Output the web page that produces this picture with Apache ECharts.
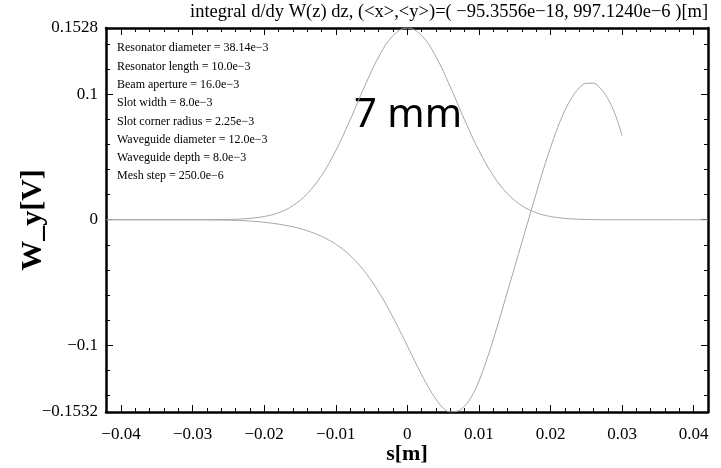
<!DOCTYPE html>
<html>
<head>
<meta charset="utf-8">
<script src="https://cdn.jsdelivr.net/npm/echarts@6/dist/echarts.min.js"></script>
<style>
html, body { margin: 0; padding: 0; background: #fff; }
#main { width: 721px; height: 468px; }
</style>
</head>
<body>
<div id="main"></div>
<script>
// bunch shape (upper curve), s in m
const bunchS = [
	-0.042, -0.040, -0.038, -0.036, -0.034, -0.032, -0.030, -0.028, -0.026, -0.024,
	-0.022, -0.020, -0.018, -0.016, -0.014, -0.012, -0.010, -0.008, -0.006, -0.004,
	-0.002, 0.000, 0.002, 0.004, 0.006, 0.008, 0.010, 0.012, 0.014, 0.016,
	0.018, 0.020, 0.022, 0.024, 0.026, 0.028, 0.030, 0.032, 0.034, 0.036,
	0.038, 0.040, 0.042,
]
const bunchVals = [
	0, 0, 0, 0, 0, 0, 0, 0, 0.0001, 0.0004,
	0.0011, 0.0026, 0.0056, 0.0112, 0.0207, 0.0352, 0.0551, 0.0795, 0.1059, 0.1298,
	0.1467, 0.1528, 0.1467, 0.1298, 0.1059, 0.0795, 0.0551, 0.0352, 0.0207, 0.0112,
	0.0056, 0.0026, 0.0011, 0.0004, 0.0001, 0, 0, 0, 0, 0,
	0, 0, 0,
]
// wake W_y (lower curve), stops at s = 0.03
const wakeS = [
	-0.042, -0.034, -0.030, -0.026, -0.024, -0.022,
	-0.020, -0.019, -0.018, -0.017, -0.016, -0.015, -0.014, -0.013, -0.012, -0.011,
	-0.010, -0.009, -0.008, -0.007, -0.006, -0.005, -0.004, -0.003, -0.002, -0.001,
	0.000, 0.001, 0.002, 0.003, 0.004, 0.005, 0.006, 0.007, 0.008, 0.009,
	0.010, 0.011, 0.012, 0.013, 0.014, 0.015, 0.016, 0.017, 0.018, 0.019,
	0.020, 0.021, 0.022, 0.023, 0.024, 0.025, 0.026, 0.027, 0.028, 0.029,
	0.030,
]
const wakeVals = [
	0, 0, 0, -0.0002, -0.0005, -0.0010,
	-0.0020, -0.0027, -0.0035, -0.0045, -0.0056, -0.0070, -0.0088, -0.0108, -0.0132, -0.0161,
	-0.0195, -0.0236, -0.0285, -0.0343, -0.0410, -0.0488, -0.0575, -0.0672, -0.0778, -0.0890,
	-0.1005, -0.1122, -0.1235, -0.1340, -0.1430, -0.1500, -0.1531, -0.1525, -0.1485, -0.1405,
	-0.1285, -0.1130, -0.0955, -0.0765, -0.0570, -0.0375, -0.0180, 0.0015, 0.0210, 0.0400,
	0.0575, 0.0735, 0.0870, 0.0975, 0.1050, 0.1087, 0.1088, 0.1045, 0.0965, 0.0845,
	0.0670,
]
const xMajor = [-0.04, -0.03, -0.02, -0.01, 0, 0.01, 0.02, 0.03, 0.04]
const xMinor = [
	-0.042, -0.038, -0.036, -0.034, -0.032, -0.028, -0.026, -0.024, -0.022,
	-0.018, -0.016, -0.014, -0.012, -0.008, -0.006, -0.004, -0.002,
	0.002, 0.004, 0.006, 0.008, 0.012, 0.014, 0.016, 0.018,
	0.022, 0.024, 0.026, 0.028, 0.032, 0.034, 0.036, 0.038,
]
const yMajor = [-0.1532, -0.1, 0, 0.1, 0.1528]
const yMinor = [-0.14, -0.12, -0.08, -0.06, -0.04, -0.02, 0.02, 0.04, 0.06, 0.08, 0.12, 0.14]
const notes = [
	'Resonator diameter = 38.14e\u22123',
	'Resonator length = 10.0e\u22123',
	'Beam aperture = 16.0e\u22123',
	'Slot width = 8.0e\u22123',
	'Slot corner radius = 2.25e\u22123',
	'Waveguide diameter = 12.0e\u22123',
	'Waveguide depth = 8.0e\u22123',
	'Mesh step = 250.0e\u22126',
]
const subtitle = 'integral d/dy W(z) dz, (<x>,<y>)=( \u221295.3556e\u221218, 997.1240e\u22126 )[m]'

const serif = 'Liberation Serif'
const fmt = v => (v < 0 ? '\u2212' : '') + String(Math.abs(v))

const chart = echarts.init(document.getElementById('main'))

const line = { show: true, onZero: false, lineStyle: { color: '#000', width: 2.5 } }
const noLine = { show: false, onZero: false }
const xBase = { type: 'value', min: -0.0421, max: 0.042, splitLine: { show: false } }
const yBase = { type: 'value', min: -0.1532, max: 0.1528, splitLine: { show: false } }
const tick = (vals, len) => ({ show: true, inside: true, length: len, customValues: vals, lineStyle: { color: '#000', width: 1 } })
const noLabel = { show: false }

const options = {
	animation: false,
	grid: { left: 106, right: 13, top: 28, bottom: 56, outerBoundsMode: 'none' },
	xAxis: [
		Object.assign({}, xBase, {
			position: 'bottom', axisLine: line, axisTick: tick(xMajor, 7),
			axisLabel: { customValues: xMajor, formatter: fmt, color: '#000', fontFamily: serif, fontSize: 17, margin: 14 },
			name: 's[m]', nameLocation: 'middle', nameGap: 31, nameMoveOverlap: false,
			nameTextStyle: { color: '#000', fontFamily: serif, fontSize: 22, fontWeight: 'bold' },
		}),
		Object.assign({}, xBase, { position: 'bottom', axisLine: noLine, axisTick: tick(xMinor, 4), axisLabel: noLabel }),
		Object.assign({}, xBase, { position: 'top', axisLine: line, axisTick: tick(xMajor, 7), axisLabel: noLabel }),
		Object.assign({}, xBase, { position: 'top', axisLine: noLine, axisTick: tick(xMinor, 4), axisLabel: noLabel }),
	],
	yAxis: [
		Object.assign({}, yBase, {
			position: 'left', axisLine: line, axisTick: tick(yMajor, 7),
			axisLabel: { customValues: yMajor, formatter: fmt, color: '#000', fontFamily: serif, fontSize: 17, margin: 8 },
			name: 'W_y[V]', nameLocation: 'middle', nameGap: 58, nameRotate: 90, nameMoveOverlap: false,
			nameTextStyle: { color: '#000', fontFamily: serif, fontSize: 30, fontWeight: 'bold' },
		}),
		Object.assign({}, yBase, { position: 'left', axisLine: noLine, axisTick: tick(yMinor, 4), axisLabel: noLabel }),
		Object.assign({}, yBase, { position: 'right', axisLine: line, axisTick: tick(yMajor, 7), axisLabel: noLabel }),
		Object.assign({}, yBase, { position: 'right', axisLine: noLine, axisTick: tick(yMinor, 4), axisLabel: noLabel }),
	],
	graphic: [
		{
			type: 'text', left: 190, top: 3,
			style: { text: subtitle, fill: '#000', font: '18.5px "Liberation Serif"' },
		},
		{
			type: 'text', left: 117, top: 39,
			style: { text: notes.join('\n'), fill: '#000', font: '12px "Liberation Serif"', lineHeight: 18.3 },
		},
		{
			type: 'text', left: 354, top: 96,
			style: { text: '7 mm', fill: '#000', font: '40px "Noto Sans"' },
		},
	],
	series: [
		{
			name: 'bunch', type: 'line', smooth: 0.4, symbol: 'none',
			lineStyle: { color: '#a6a6a6', width: 1 },
			data: bunchS.map((s, i) => [s, bunchVals[i]]),
		},
		{
			name: 'wake', type: 'line', smooth: 0.4, symbol: 'none',
			lineStyle: { color: '#a6a6a6', width: 1 },
			data: wakeS.map((s, i) => [s, wakeVals[i]]),
		},
	],
}
chart.setOption(options)
</script>
</body>
</html>
